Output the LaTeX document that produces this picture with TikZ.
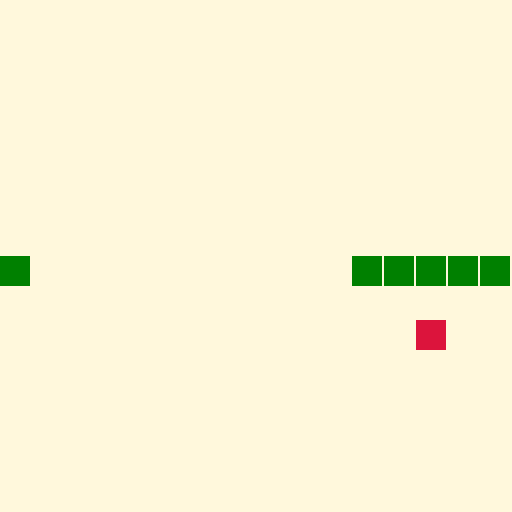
\documentclass[tikz,border=0pt]{standalone}
\definecolor{bg}{RGB}{255,248,220}
\definecolor{snake}{RGB}{0,128,0}
\definecolor{food}{RGB}{220,20,60}
\begin{document}
\begin{tikzpicture}[x=1pt,y=-1pt,
  seg/.style={fill=snake,draw=none},
  apple/.style={fill=food,draw=none}]
\useasboundingbox (0,0) rectangle (512,512);
\fill[bg] (0,0) rectangle (512,512);
\foreach \x in {352,384,416,448,480}
  \fill[seg] (\x,256) rectangle ++(30,30);
\fill[seg] (0,256) rectangle ++(30,30);
\fill[apple] (416,320) rectangle ++(30,30);
\end{tikzpicture}
\end{document}
